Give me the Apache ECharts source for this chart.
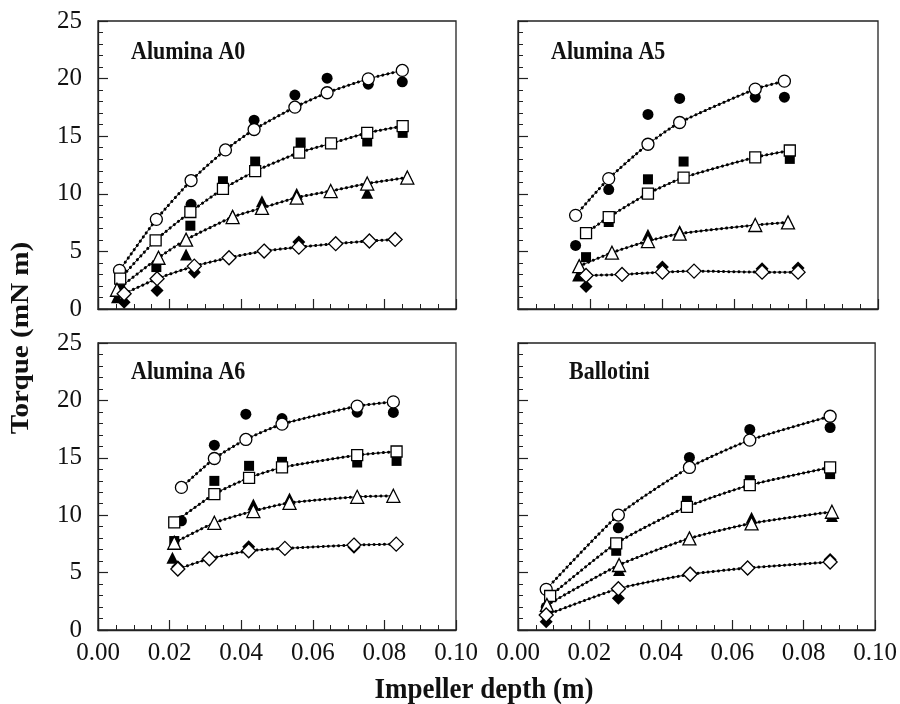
<!DOCTYPE html>
<html>
<head>
<meta charset="utf-8">
<script src="https://cdn.jsdelivr.net/npm/echarts@6/dist/echarts.min.js"></script>
<style>
  html, body { margin: 0; padding: 0; background: #fff; }
  #chart { width: 900px; height: 704px; }
</style>
</head>
<body>
<div id="chart"></div>
<script>
// torque vs impeller depth, four powders
// [depth (m), torque (mN m)] pairs, open = fitted (line), filled = measured points

// Alumina A0
const a0OpenCircle = [[0.0060, 3.35], [0.0163, 7.78], [0.0260, 11.15], [0.0356, 13.81], [0.0436, 15.58], [0.0550, 17.52], [0.0640, 18.77], [0.0755, 19.98], [0.0850, 20.71]]
const a0OpenSquare = [[0.0062, 2.63], [0.0161, 5.96], [0.0258, 8.42], [0.0349, 10.42], [0.0439, 11.96], [0.0562, 13.58], [0.0651, 14.37], [0.0752, 15.29], [0.0851, 15.87]]
const a0OpenTriangle = [[0.0053, 1.67], [0.0169, 4.45], [0.0246, 6.02], [0.0376, 7.98], [0.0458, 8.77], [0.0555, 9.67], [0.0650, 10.24], [0.0752, 10.89], [0.0864, 11.41]]
const a0OpenDiamond = [[0.0073, 1.32], [0.0165, 2.63], [0.0269, 3.72], [0.0366, 4.45], [0.0464, 5.03], [0.0561, 5.37], [0.0664, 5.67], [0.0758, 5.90], [0.0830, 6.04]]
const a0FilledCircle = [[0.0060, 3.2], [0.0260, 9.09], [0.0436, 16.39], [0.0550, 18.57], [0.0640, 20.04], [0.0755, 19.52], [0.0850, 19.72]]
const a0FilledSquare = [[0.0062, 1.96], [0.0163, 3.64], [0.0258, 7.23], [0.0349, 11.09], [0.0439, 12.80], [0.0566, 14.45], [0.0752, 14.54], [0.0851, 15.29]]
const a0FilledTriangle = [[0.0053, 1.03], [0.0169, 4.50], [0.0246, 4.74], [0.0376, 8.13], [0.0458, 9.35], [0.0555, 10.00], [0.0752, 10.10], [0.0864, 11.50]]
const a0FilledDiamond = [[0.0073, 0.59], [0.0165, 1.61], [0.0269, 3.20], [0.0561, 5.81]]

// Alumina A5
const a5OpenCircle = [[0.0160, 8.13], [0.0252, 11.32], [0.0361, 14.30], [0.0449, 16.19], [0.0659, 19.09], [0.0740, 19.78]]
const a5OpenSquare = [[0.0189, 6.59], [0.0252, 7.98], [0.0361, 10.02], [0.0460, 11.41], [0.0659, 13.17], [0.0755, 13.76]]
const a5OpenTriangle = [[0.0170, 3.72], [0.0261, 4.89], [0.0361, 5.90], [0.0449, 6.54], [0.0659, 7.29], [0.0750, 7.52]]
const a5OpenDiamond = [[0.0189, 2.91], [0.0289, 3.00], [0.0401, 3.20], [0.0489, 3.29], [0.0678, 3.20], [0.0778, 3.20]]
const a5FilledCircle = [[0.0160, 5.52], [0.0252, 10.37], [0.0361, 16.89], [0.0449, 18.28], [0.0659, 18.39], [0.0740, 18.39]]
const a5FilledSquare = [[0.0189, 4.50], [0.0252, 7.55], [0.0361, 11.26], [0.0460, 12.80], [0.0755, 13.03]]
const a5FilledTriangle = [[0.0167, 2.91], [0.0361, 6.45], [0.0449, 6.77]]
const a5FilledDiamond = [[0.0189, 1.96], [0.0401, 3.64], [0.0678, 3.50], [0.0778, 3.55]]

// Alumina A6
const a6OpenCircle = [[0.0233, 12.42], [0.0325, 14.94], [0.0413, 16.60], [0.0514, 17.93], [0.0724, 19.50], [0.0825, 19.87]]
const a6OpenSquare = [[0.0213, 9.37], [0.0325, 11.84], [0.0422, 13.26], [0.0514, 14.16], [0.0724, 15.23], [0.0834, 15.55]]
const a6OpenTriangle = [[0.0213, 7.60], [0.0325, 9.34], [0.0434, 10.36], [0.0535, 11.08], [0.0724, 11.60], [0.0825, 11.69]]
const a6OpenDiamond = [[0.0223, 5.31], [0.0311, 6.21], [0.0421, 6.90], [0.0522, 7.11], [0.0715, 7.40], [0.0833, 7.48]]
const a6FilledCircle = [[0.0233, 9.51], [0.0325, 16.10], [0.0413, 18.80], [0.0514, 18.42], [0.0724, 18.97], [0.0825, 18.95]]
const a6FilledSquare = [[0.0213, 7.75], [0.0325, 12.99], [0.0422, 14.30], [0.0514, 14.65], [0.0724, 14.59], [0.0834, 14.73]]
const a6FilledTriangle = [[0.0208, 6.29], [0.0434, 10.94], [0.0535, 11.46]]
const a6FilledDiamond = [[0.0223, 5.50], [0.0421, 7.25], [0.0715, 7.20]]

// Ballotini
const balOpenCircle = [[0.0079, 3.54], [0.0281, 10.01], [0.0480, 14.16], [0.0649, 16.54], [0.0874, 18.62]]
const balOpenSquare = [[0.0090, 2.96], [0.0275, 7.55], [0.0473, 10.73], [0.0649, 12.62], [0.0874, 14.16]]
const balOpenTriangle = [[0.0081, 2.18], [0.0283, 5.66], [0.0480, 7.98], [0.0654, 9.29], [0.0879, 10.30]]
const balOpenDiamond = [[0.0079, 1.31], [0.0281, 3.60], [0.0482, 4.85], [0.0643, 5.40], [0.0874, 5.92]]
const balFilledCircle = [[0.0079, 2.00], [0.0281, 8.90], [0.0480, 15.03], [0.0649, 17.47], [0.0874, 17.64]]
const balFilledSquare = [[0.0275, 6.90], [0.0473, 11.25], [0.0649, 13.05], [0.0874, 13.58]]
const balFilledTriangle = [[0.0081, 2.03], [0.0283, 5.22], [0.0654, 9.77], [0.0879, 9.92]]
const balFilledDiamond = [[0.0079, 0.72], [0.0281, 2.76], [0.0482, 4.99], [0.0874, 6.15]]

const xTicks = [0, 0.02, 0.04, 0.06, 0.08, 0.10]
const yTicks = [0, 5, 10, 15, 20, 25]

const FONT = '"Liberation Serif", "Times New Roman", serif'
const INK = '#000'

const symbols = ['circle', 'rect', 'triangle', 'diamond']
const openSizes = [12, 11, 13, 14]
const filledSizes = [11, 10, 12, 13]

const panels = [
  { name: 'Alumina A0', grid: { left: 98, top: 21, width: 358, height: 288 }, title: [131, 53],
    open: [a0OpenCircle, a0OpenSquare, a0OpenTriangle, a0OpenDiamond],
    filled: [a0FilledCircle, a0FilledSquare, a0FilledTriangle, a0FilledDiamond], xLabels: false, yLabels: true },
  { name: 'Alumina A5', grid: { left: 518, top: 21, width: 360, height: 288 }, title: [551, 53],
    open: [a5OpenCircle, a5OpenSquare, a5OpenTriangle, a5OpenDiamond],
    filled: [a5FilledCircle, a5FilledSquare, a5FilledTriangle, a5FilledDiamond], xLabels: false, yLabels: false },
  { name: 'Alumina A6', grid: { left: 98, top: 343, width: 358, height: 287 }, title: [131, 373],
    open: [a6OpenCircle, a6OpenSquare, a6OpenTriangle, a6OpenDiamond],
    filled: [a6FilledCircle, a6FilledSquare, a6FilledTriangle, a6FilledDiamond], xLabels: true, yLabels: true },
  { name: 'Ballotini', grid: { left: 518, top: 343, width: 360, height: 287 }, title: [569, 373],
    open: [balOpenCircle, balOpenSquare, balOpenTriangle, balOpenDiamond],
    filled: [balFilledCircle, balFilledSquare, balFilledTriangle, balFilledDiamond], xLabels: true, yLabels: false }
]

const grids = []
const xAxes = []
const yAxes = []
const series = []
const graphics = []

panels.forEach((p, i) => {
  grids.push(Object.assign({ show: true, borderColor: '#222', borderWidth: 1.3, backgroundColor: 'transparent' }, p.grid))

  xAxes.push({
    type: 'value', gridIndex: i,
    min: xTicks[0], max: xTicks[xTicks.length - 1], interval: xTicks[1] - xTicks[0],
    axisLine: { lineStyle: { color: '#222', width: 1.3 } },
    axisTick: { inside: true, length: 10, lineStyle: { color: '#222', width: 1.2 } },
    minorTick: { show: true, splitNumber: 4, length: 5, lineStyle: { color: '#222', width: 1 } },
    splitLine: { show: false },
    axisLabel: {
      show: p.xLabels, margin: 11, showMinLabel: true, showMaxLabel: true,
      fontFamily: FONT, fontSize: 25, color: '#111',
      formatter: v => v.toFixed(2)
    }
  })

  yAxes.push({
    type: 'value', gridIndex: i,
    min: yTicks[0], max: yTicks[yTicks.length - 1], interval: yTicks[1] - yTicks[0],
    axisLine: { lineStyle: { color: '#222', width: 1.3 } },
    axisTick: { inside: true, length: 10, lineStyle: { color: '#222', width: 1.2 } },
    minorTick: { show: true, splitNumber: 5, length: 5, lineStyle: { color: '#222', width: 1 } },
    splitLine: { show: false },
    axisLabel: {
      show: p.yLabels, margin: 16, showMinLabel: true, showMaxLabel: true,
      fontFamily: FONT, fontSize: 25, color: '#111'
    }
  })

  // measured points, drawn underneath
  p.filled.forEach((d, k) => {
    series.push({
      type: 'scatter', xAxisIndex: i, yAxisIndex: i, data: d, z: 2,
      symbol: symbols[k], symbolSize: filledSizes[k],
      itemStyle: { color: INK, opacity: 1 },
      silent: true
    })
  })

  p.open.forEach((d, k) => {
    // dotted overlay that gives the beaded look of the curves
    series.push({
      type: 'line', xAxisIndex: i, yAxisIndex: i, data: d, z: 3,
      smooth: 0.2, symbol: 'none', silent: true,
      lineStyle: { color: INK, width: 3, type: [0.1, 5], cap: 'round' }
    })
    series.push({
      type: 'line', xAxisIndex: i, yAxisIndex: i, data: d, z: 4,
      smooth: 0.2, silent: true,
      symbol: symbols[k], symbolSize: openSizes[k], showAllSymbol: true,
      lineStyle: { color: INK, width: 1 },
      itemStyle: { color: '#fff', borderColor: INK, borderWidth: 1.3 }
    })
  })

  graphics.push({
    type: 'text', x: p.title[0], y: p.title[1], scaleY: 1.1,
    style: { text: p.name, font: 'bold 22px ' + FONT, fill: '#111', verticalAlign: 'middle' }
  })
})

graphics.push({
  type: 'text', x: 21, y: 338, rotation: Math.PI / 2, scaleX: 1.12,
  style: { text: 'Torque (mN m)', font: 'bold 26px ' + FONT, fill: '#111', align: 'center', verticalAlign: 'middle' }
})
graphics.push({
  type: 'text', x: 484, y: 690, scaleY: 1.12,
  style: { text: 'Impeller depth (m)', font: 'bold 27px ' + FONT, fill: '#111', align: 'center', verticalAlign: 'middle' }
})

const chart = echarts.init(document.getElementById('chart'), null, { renderer: 'canvas' })
chart.setOption({
  animation: false,
  backgroundColor: '#fff',
  grid: grids,
  xAxis: xAxes,
  yAxis: yAxes,
  series: series,
  graphic: graphics
})
</script>
</body>
</html>
